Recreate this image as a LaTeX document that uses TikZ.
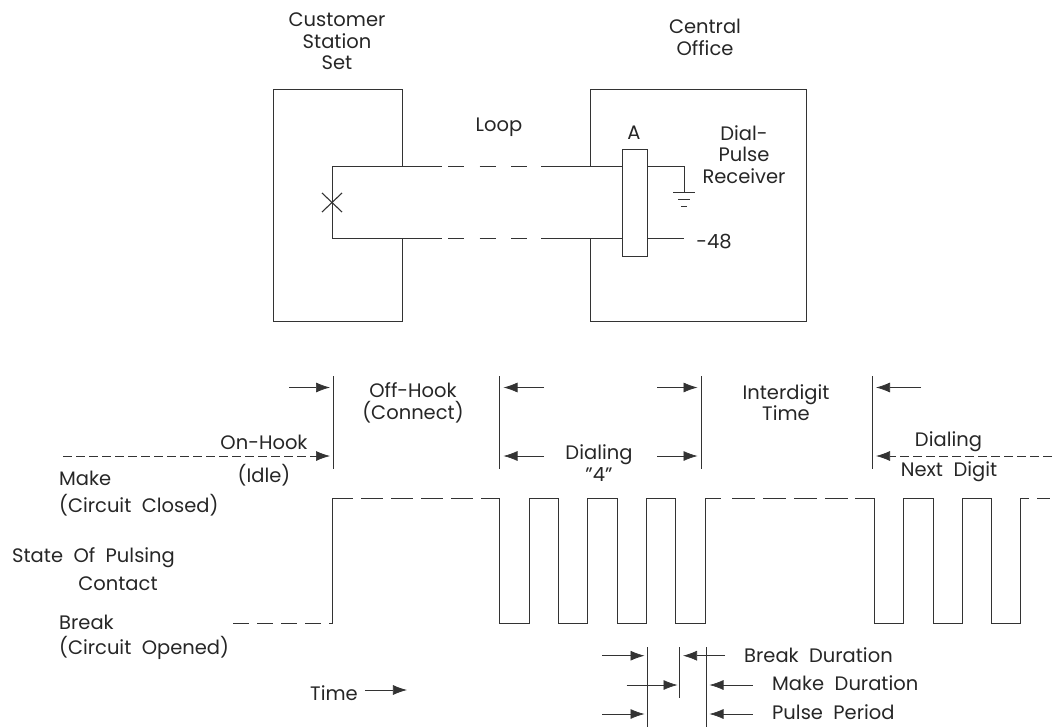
\documentclass[tikz,border=0pt]{standalone}
\usepackage{fontspec}
\setmainfont{Poppins}
\usetikzlibrary{arrows.meta,calc,positioning}
\definecolor{inkgray}{rgb}{0.2,0.2,0.2}
\tikzset{
  wire/.style={line width=0.8pt,draw=inkgray},
  dashwire/.style={wire,dash pattern=on 22pt off 8pt},
  finedash/.style={wire,line width=0.7pt,dash pattern=on 9pt off 4pt},
  dimarrow/.style={line width=0.7pt,draw=inkgray,-{Latex[length=14pt,width=10pt]}},
  lbl/.style={inner sep=0pt,align=center,text=black!85,font=\fontsize{19.5}{21.3}\selectfont},
  lbll/.style={lbl,anchor=west,align=left}
}
\begin{document}
\begin{tikzpicture}[x=1pt,y=-1pt]
  \useasboundingbox (0,0) rectangle (1053,728);
  % Station set and central office
  \draw[wire] (402,166) -- (402,89) -- (273.5,89) -- (273.5,321) -- (402,321) -- (402,238.5);
  \draw[wire] (590.7,166) -- (590.7,89) -- (806,89) -- (806,321) -- (590.7,321) -- (590.7,238.5);
  \node[lbl] (customer) at (337,41.5) {Customer\\Station\\Set};
  \node[lbl] (central) at (705,37.5) {Central\\Office};
  \node[lbl] (loop) at (499,127) {Loop};
  \node[lbl] (dialpulse) at (744,154.5) {Dial-\\Pulse\\Receiver};
  \node[lbl] (minus) at (714,242) {-48};
  % Relay A
  \node[wire,draw,minimum width=25pt,minimum height=107.5pt,inner sep=0pt] (relay) at (635,202.75) {};
  \node[lbl] (relaylbl) at (634,133) {A};
  % Loop wires
  \coordinate (topl) at (332,166);
  \coordinate (botl) at (332,238.5);
  \coordinate (topgap) at (442,166);
  \coordinate (botgap) at (442,238.5);
  \coordinate (topmid) at (541,166);
  \coordinate (botmid) at (541,238.5);
  \coordinate (gnd) at (684,192);
  \coordinate (bate) at (684,238.5);
  \draw[wire] (topgap) -- (topl) -- (botl) -- (botgap);
  \draw[dashwire,dash pattern=on 16pt off 15.5pt] (448,166) -- (topmid);
  \draw[dashwire,dash pattern=on 16pt off 15.5pt] (448,238.5) -- (botmid);
  \draw[wire] (topmid) -- (relay.west |- topmid);
  \draw[wire] (botmid) -- (relay.west |- botmid);
  \draw[wire] (relay.east |- topmid) -| (gnd);
  \draw[wire] (relay.east |- bate) -- (bate);
  % Ground
  \draw[wire] (673,192) -- (695,192);
  \draw[wire] (678,199) -- (690,199);
  \draw[wire] (681,206.5) -- (687,206.5);
  % Contact
  \draw[wire,line width=1.1pt] (322,193) -- (342,212);
  \draw[wire,line width=1.1pt] (322,212) -- (342,193);
  % Timing marks
  \draw[wire] (333,376) -- (333,469);
  \draw[wire] (499.5,376) -- (499.5,469);
  \draw[wire] (701,376) -- (701,469);
  \draw[wire] (872.7,376) -- (872.7,469);
  % First row of arrows
  \draw[dimarrow] (289,387.5) -- (330,387.5);
  \draw[dimarrow] (544,387.5) -- (503.5,387.5);
  \draw[dimarrow] (657,387.5) -- (697.5,387.5);
  \draw[dimarrow] (921,387.5) -- (876,387.5);
  % Second row of arrows
  \draw[finedash] (63,456) -- (318,456);
  \draw[dimarrow] (316,456) -- (330,456);
  \draw[dimarrow] (544,456) -- (503.5,456);
  \draw[dimarrow] (657,456) -- (697.5,456);
  \draw[finedash] (1052,456) -- (890,456);
  \draw[dimarrow] (890,456) -- (876,456);
  % Interval labels
  \node[lbl] (offhook) at (413,403) {Off-Hook\\(Connect)};
  \node[lbl] (onhook) at (264,442) {On-Hook};
  \node[lbl] (idle) at (264,475) {(Idle)};
  \node[lbl] (dialing) at (599,463) {Dialing\\\char34 4\char34};
  \node[lbl] (interdigit) at (786,403) {Interdigit\\Time};
  \node[lbl] (nextdial) at (948.5,442) {Dialing};
  \node[lbl] (nextdigit) at (949,472) {Next\ \ Digit};
  % Pulsing states
  \node[lbll] (make) at (59,478) {Make};
  \node[lbll] (closed) at (59,505) {(Circuit\ \ Closed)};
  \node[lbll] (state) at (12,558) {State\ \ Of\ \ Pulsing};
  \node[lbl] (contact) at (118,584) {Contact};
  \node[lbll] (break) at (59,622) {Break};
  \node[lbll] (opened) at (59,648) {(Circuit\ \ Opened)};
  \node[lbl] (time) at (334,693) {Time};
  \coordinate[right=7pt of time.east,yshift=3pt] (timearrow);
  \draw[dimarrow] (timearrow) -- ++(42,0);
  % Waveform
  \draw[dashwire,dash pattern=on 16pt off 8pt] (233,623.7) -- (332,623.7);
  \draw[wire] (332,623.7) -- (332,498) -- (353,498);
  \draw[dashwire] (361,498) -- (483,498);
  \draw[wire] (483,498) -- (499.5,498) -- (499.5,623.7) -- (529.7,623.7) -- (529.7,498)
    -- (558,498) -- (558,623.7) -- (587,623.7) -- (587,498)
    -- (617,498) -- (617,623.7) -- (646,623.7) -- (646,498)
    -- (675,498) -- (675,623.7) -- (705,623.7) -- (705,498) -- (721,498);
  \draw[dashwire,dash pattern=on 23pt off 8pt] (732,498) -- (855,498);
  \draw[wire] (855,498) -- (874.5,498) -- (874.5,623.7) -- (903,623.7) -- (903,498)
    -- (933,498) -- (933,623.7) -- (962,623.7) -- (962,498)
    -- (991,498) -- (991,623.7) -- (1020.7,623.7) -- (1020.7,498) -- (1029,498);
  \draw[wire] (1037,498) -- (1050,498);
  % Duration marks
  \draw[wire] (647,647) -- (647,727);
  \draw[wire] (679.5,647) -- (679.5,698);
  \draw[wire] (706.6,647) -- (706.6,727);
  \draw[dimarrow] (602,655.7) -- (644.5,655.7);
  \draw[dimarrow] (725,655.7) -- (683,655.7);
  \draw[dimarrow] (626.5,685) -- (677.5,685);
  \draw[dimarrow] (752.5,685) -- (709.5,685);
  \draw[dimarrow] (602,714) -- (644.5,714);
  \draw[dimarrow] (752.5,714) -- (709.5,714);
  \node[lbll] (breakdur) at (744,655) {Break\ \ Duration};
  \node[lbll] (makedur) at (772,683) {Make\ \ Duration};
  \node[lbll] (period) at (772,712) {Pulse\ \ Period};
\end{tikzpicture}
\end{document}
